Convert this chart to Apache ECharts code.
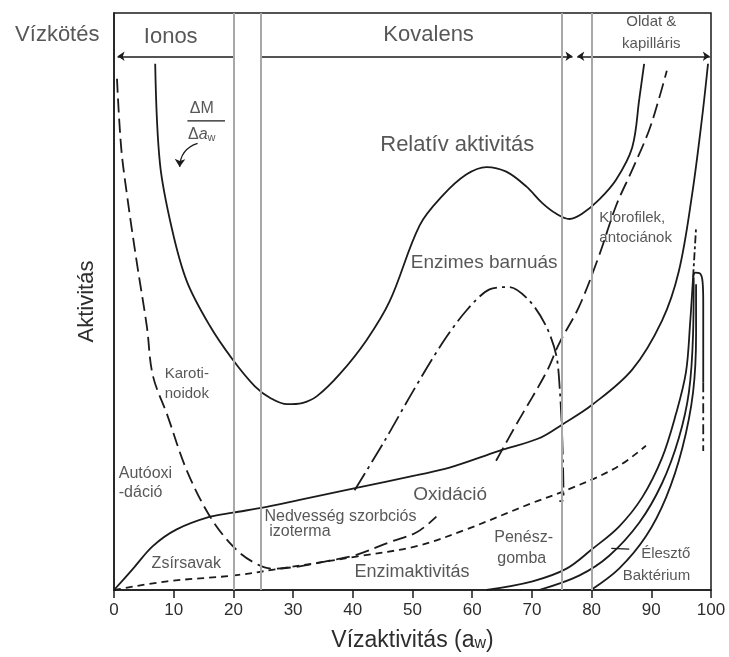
<!DOCTYPE html>
<html>
<head>
<meta charset="utf-8">
<script src="https://cdn.jsdelivr.net/npm/echarts@6/dist/echarts.min.js"></script>
<style>
  html, body { margin: 0; padding: 0; background: #fff; }
  #chart { width: 729px; height: 657px; }
</style>
</head>
<body>
<div id="chart"></div>
<script>
// Water activity (aw) stability map: reaction rates vs. water activity

// x tick values of the water-activity axis
const xTicks = [0, 10, 20, 30, 40, 50, 60, 70, 80, 90, 100];

// boundaries between the water-binding zones
const zoneBounds = [20, 24.5, 75, 80];

// sorption isotherm derivative ΔM/Δaw ("Relatív aktivitás")
const relativeActivity = [
  [6.9, 91.2], [7.7, 73.9], [9.7, 62.6], [12.2, 53.5], [16.1, 45.7], [19.9, 39.9],
  [23.6, 35.3], [26.3, 33.2], [29.0, 32.2], [31.5, 32.4], [34.0, 33.6], [37.8, 37.4],
  [42.3, 43.3], [46.2, 50.1], [51.2, 63.2], [55.0, 68.3], [59.0, 72.0], [62.4, 73.3],
  [65.7, 72.5], [69.1, 69.9], [71.7, 67.1], [74.1, 65.2], [76.3, 64.3], [78.4, 65.2],
  [81.3, 67.7], [84.1, 71.1], [86.8, 76.7], [88.0, 85.2], [88.8, 91.2]
];

// carotenoid autoxidation, continuing as the sorption isotherm (long dashes)
const carotenoids = [
  [0.5, 88.6], [1.2, 76.7], [2.2, 68.3], [3.8, 56.9], [5.5, 45.7], [6.5, 37.2],
  [8.9, 30.4], [12.2, 20.7], [16.1, 12.7], [19.9, 7.6], [23.2, 4.9], [26.6, 3.7],
  [31.1, 4.1], [36.1, 5.1], [40.6, 6.1], [46.2, 8.3], [50.7, 10.0], [54.0, 12.7]
];

// lipid oxidation (solid)
const oxidation = [
  [0, 0], [3.2, 3.7], [6.5, 7.6], [10.5, 10.5], [16.1, 12.7], [19.9, 13.4],
  [25.6, 14.4], [31.1, 15.6], [40.6, 17.7], [50.7, 19.9], [56.2, 21.2], [64.5, 24.1],
  [71.2, 26.3], [75.1, 28.7], [80.1, 32.1], [86.8, 38.2], [91.8, 46.7], [94.6, 55.2],
  [96.8, 68.3], [98.5, 81.8], [99.5, 91.2]
];

// enzymatic browning (dash-dot)
const browning = [
  [40.3, 17.3], [45.3, 25.8], [50.0, 34.3], [55.0, 42.8], [59.0, 48.4], [62.9, 52.1],
  [66.2, 52.5], [69.6, 50.1], [72.4, 45.7], [74.1, 40.6], [74.7, 34.3], [75.1, 25.8],
  [75.3, 15.6], [74.6, 15.4]
];

// chlorophylls, anthocyanins (dashed)
const chlorophylls = [
  [64.0, 22.4], [67.4, 28.7], [72.4, 37.7], [74.6, 42.8], [77.9, 49.1], [81.3, 58.1],
  [84.1, 66.6], [86.8, 72.8], [89.6, 79.6], [91.3, 85.2], [92.6, 90.0]
];

// fatty acids / enzyme activity (short dashes)
const enzymeActivity = [
  [0, 0], [8.9, 1.5], [19.9, 2.5], [27.8, 3.7], [40.6, 5.8], [50.7, 7.6],
  [59.0, 10.5], [70.1, 15.1], [75.8, 17.3], [84.1, 21.2], [89.1, 25.0]
];

// microbial growth: moulds, yeasts, bacteria
const moulds = [
  [62.4, 0], [70.1, 1.5], [75.8, 3.7], [80.1, 7.1], [84.6, 11.0], [88.5, 16.1],
  [91.8, 22.9], [94.1, 30.4], [95.8, 37.7], [96.5, 46.2], [97.0, 54.2]
];
const yeasts = [
  [71.2, 0], [77.9, 2.5], [82.9, 5.9], [88.0, 11.7], [91.8, 18.5], [94.6, 26.3],
  [96.3, 34.3], [97.0, 44.5], [97.1, 54.2]
];
const bacteria = [
  [79.9, 0], [84.6, 3.7], [89.1, 9.3], [92.5, 16.1], [95.2, 24.6], [97.0, 34.3],
  [97.5, 44.5], [97.5, 53.0]
];
// common maximum of the growth curves and the fall near aw = 1
const growthCap = [[97.0, 54.2], [97.4, 55.0], [98.1, 54.9], [98.6, 53.3], [98.7, 50.0], [98.7, 36.0]];
const growthCapDashed = [[98.7, 36.0], [98.7, 24.1]];
const growthUpDashed = [[97.0, 54.2], [97.5, 62.8]];

// header: water binding zones
const headerY = 92.5;
const zoneArrows = [
  { from: [20, headerY], to: [0.6, headerY], symbol: ['none', 'arrow'] },
  { from: [24.5, headerY], to: [76.8, headerY], symbol: ['none', 'arrow'] },
  { from: [77.6, headerY], to: [99.8, headerY], symbol: ['arrow', 'arrow'] }
];

// text annotations: [text, x, y, fontSize, align]
const annotations = [
  ['Vízkötés', -9.5, 96.2, 22, 'center'],
  ['Ionos', 9.5, 95.9, 22, 'center'],
  ['Kovalens', 52.7, 96.2, 22, 'center'],
  ['Oldat &', 90.0, 98.5, 15, 'center'],
  ['kapilláris', 90.0, 94.6, 15, 'center'],
  ['Relatív aktivitás', 57.5, 77.1, 22, 'center'],
  ['Enzimes barnuás', 74.3, 56.7, 19, 'right'],
  ['Klorofilek,', 81.3, 64.5, 15, 'left'],
  ['antociánok', 81.3, 61.0, 15, 'left'],
  ['Karoti-', 8.5, 37.4, 15, 'left'],
  ['noidok', 8.5, 34.0, 15, 'left'],
  ['Autóoxi', 0.8, 20.2, 16, 'left'],
  ['-dáció', 0.8, 16.8, 16, 'left'],
  ['Nedvesség szorbciós', 25.2, 12.7, 16, 'left'],
  ['izoterma', 26.0, 10.2, 16, 'left'],
  ['Zsírsavak', 6.3, 4.6, 16, 'left'],
  ['Oxidáció', 56.3, 16.5, 19, 'center'],
  ['Enzimaktivitás', 40.3, 3.2, 18, 'left'],
  ['Penész-', 63.7, 9.1, 16, 'left'],
  ['gomba', 64.2, 5.4, 16, 'left'],
  ['Élesztő', 88.3, 6.3, 15, 'left'],
  ['Baktérium', 85.2, 2.5, 15, 'left']
];

// ΔM/Δaw label pieces
const fractionTop = [14.7, 83.4];
const fractionBottom = [14.7, 79.0];
const fractionBar = [[12.3, 81.3], [18.6, 81.3]];
const fractionArrow = [[14.0, 77.4], [11.0, 73.3]];
const yeastLeader = [[83.3, 7.2], [86.3, 7.1]];

const INK = '#1b1b1b';
const TEXT = '#2d2d2d';
const FONT = '"Liberation Sans", Arial, sans-serif';

function curve(data, type, width, smooth) {
  return {
    type: 'line',
    data: data,
    smooth: smooth === undefined ? 0.35 : smooth,
    symbol: 'none',
    silent: true,
    animation: false,
    lineStyle: { color: INK, width: width || 1.7, type: type || 'solid', cap: 'butt' },
    z: 3
  };
}

const chart = echarts.init(document.getElementById('chart'), null, { renderer: 'canvas' });

const series = [
  // zone boundary lines
  {
    type: 'line',
    data: [],
    markLine: {
      silent: true,
      symbol: 'none',
      label: { show: false },
      animation: false,
      lineStyle: { color: '#a8a8a8', width: 2, type: 'solid' },
      data: zoneBounds.map(v => ({ xAxis: v }))
    },
    z: 1
  },
  // header arrows
  {
    type: 'lines',
    coordinateSystem: 'cartesian2d',
    silent: true,
    animation: false,
    symbolSize: 7,
    lineStyle: { color: INK, width: 1.5, opacity: 1 },
    data: zoneArrows.map(a => ({ coords: [a.from, a.to], symbol: a.symbol })),
    z: 4
  },
  curve(relativeActivity, 'solid', 1.8),
  curve(carotenoids, [14, 6], 1.8),
  curve(oxidation, 'solid', 1.8),
  curve(browning, [20, 5, 3, 5], 1.8, 0.3),
  curve(chlorophylls, [15, 6], 1.8),
  curve(enzymeActivity, [7, 5], 1.8),
  curve(moulds, 'solid', 1.8),
  curve(yeasts, 'solid', 1.8),
  curve(bacteria, 'solid', 1.8),
  curve(growthCap, 'solid', 1.8, 0.4),
  curve(growthCapDashed, [10, 4, 3, 4], 1.8, false),
  curve(growthUpDashed, [8, 3, 3, 3], 1.8, false),
  curve(fractionBar, 'solid', 1.2, false),
  curve(yeastLeader, 'solid', 1.2, false),
  // curved arrow from the ΔM/Δaw label to its curve
  {
    type: 'lines',
    coordinateSystem: 'cartesian2d',
    silent: true,
    animation: false,
    symbol: ['none', 'arrow'],
    symbolSize: 8,
    lineStyle: { color: INK, width: 1.2, curveness: -0.35, opacity: 1 },
    data: [{ coords: fractionArrow }],
    z: 4
  },
  // text annotations
  {
    type: 'scatter',
    symbolSize: 0,
    clip: false,
    silent: true,
    animation: false,
    data: annotations.map(a => ({
      value: [a[1], a[2]],
      label: {
        show: true,
        position: 'inside',
        formatter: a[0],
        fontSize: a[3],
        align: a[4],
        verticalAlign: 'middle',
        color: TEXT,
        fontFamily: FONT
      }
    })),
    z: 6
  },
  // ΔM over Δaw
  {
    type: 'scatter',
    symbolSize: 0,
    silent: true,
    animation: false,
    data: [
      { value: fractionTop, label: { formatter: 'ΔM' } },
      { value: fractionBottom, label: { formatter: '{d|Δ}{a|a}{w|w}' } }
    ],
    label: {
      show: true,
      position: 'inside',
      fontSize: 16,
      color: TEXT,
      fontFamily: FONT,
      rich: {
        d: { fontSize: 16, color: TEXT, fontFamily: FONT, lineHeight: 18 },
        a: { fontSize: 16, color: TEXT, fontFamily: FONT, fontStyle: 'italic', lineHeight: 18 },
        w: { fontSize: 11, color: TEXT, fontFamily: FONT, verticalAlign: 'bottom', lineHeight: 11, padding: [9, 0, 0, 0] }
      }
    },
    z: 6
  }
];

chart.setOption({
  animation: false,
  backgroundColor: '#ffffff',
  grid: {
    left: 114, top: 13, width: 597, height: 589,
    show: true, borderColor: INK, borderWidth: 1.5, backgroundColor: 'transparent'
  },
  xAxis: {
    type: 'value',
    min: 0, max: 100, interval: 10,
    name: 'Vízaktivitás (a{w|w})',
    nameLocation: 'middle',
    nameGap: 39,
    nameTextStyle: {
      fontSize: 23, color: TEXT, fontFamily: FONT,
      rich: { w: { fontSize: 16, color: TEXT, fontFamily: FONT, verticalAlign: 'bottom', padding: [5, 0, 0, 0] } }
    },
    axisLine: { show: true, lineStyle: { color: INK, width: 1.5 } },
    axisTick: { show: true, inside: false, length: 8, lineStyle: { color: INK, width: 1.5 } },
    axisLabel: {
      show: true, margin: 12, fontSize: 17, color: TEXT, fontFamily: FONT,
      customValues: xTicks
    },
    splitLine: { show: false }
  },
  yAxis: {
    type: 'value',
    min: 0, max: 100,
    name: 'Aktivitás',
    nameLocation: 'middle',
    nameRotate: 90,
    nameGap: 16,
    nameTextStyle: { fontSize: 22, color: TEXT, fontFamily: FONT },
    axisLine: { show: true, lineStyle: { color: INK, width: 1.5 } },
    axisTick: { show: false },
    axisLabel: { show: false },
    splitLine: { show: false }
  },
  series: series
});
</script>
</body>
</html>
